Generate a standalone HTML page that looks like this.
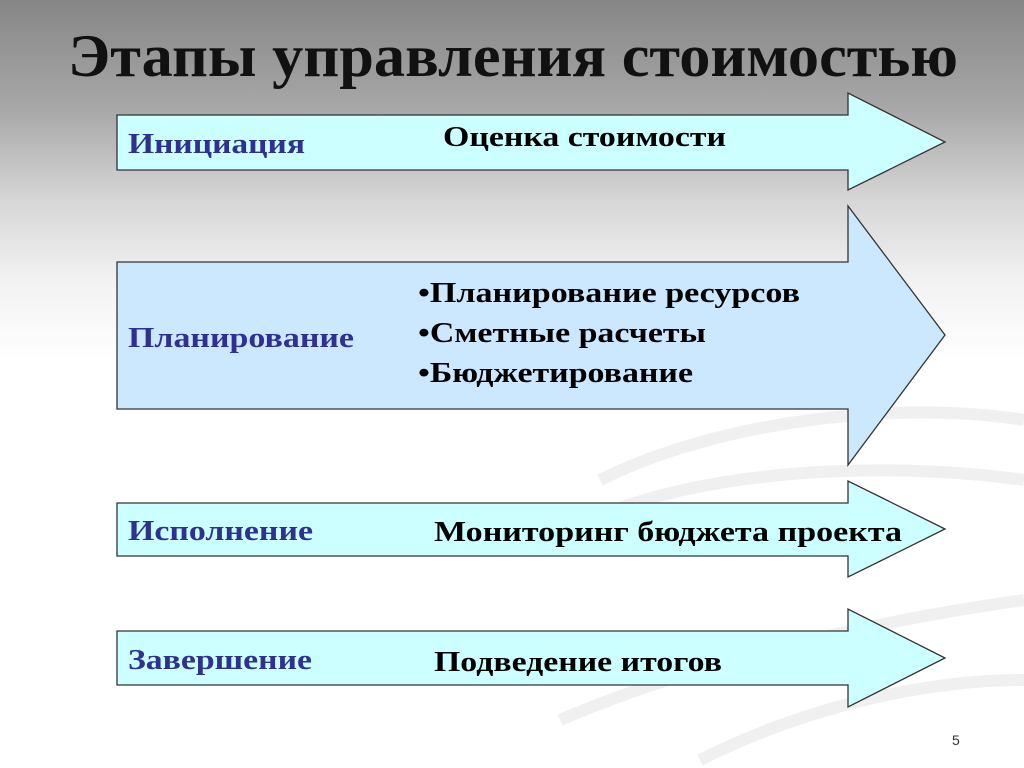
<!DOCTYPE html>
<html><head><meta charset="utf-8"><style>
html,body{margin:0;padding:0;}
body{width:1024px;height:768px;overflow:hidden;background:linear-gradient(to bottom,#868686 0px,#a8a8a8 110px,#d6d6d6 200px,#f2f2f2 280px,#ffffff 360px,#ffffff 768px);}
</style></head><body>
<svg width="1024" height="768" viewBox="0 0 1024 768" xmlns="http://www.w3.org/2000/svg" style="position:absolute;left:0;top:0">
<g fill="none" stroke="#f0f0f0" stroke-width="12">
<path d="M600 480 C720 420 900 400 1024 420"/>
<path d="M590 520 C700 470 880 460 1024 480"/>
<path d="M560 720 C700 660 880 620 1024 600"/>
<path d="M700 760 C820 700 940 680 1024 680"/>
</g>
<text x="68" y="76" font-family="Liberation Serif, serif" font-weight="bold" font-size="60" fill="#111" textLength="890" lengthAdjust="spacingAndGlyphs">Этапы управления стоимостью</text>
<g stroke="#333" stroke-width="1.3">
<polygon points="117,115 848,115 848,93 945,142 848,190 848,170 117,170" fill="#ccffff"/>
<polygon points="117,262 848,262 848,206 945,335 848,465 848,409 117,409" fill="#cce8ff"/>
<polygon points="117,503 848,503 848,481 945,529 848,577 848,556 117,556" fill="#ccffff"/>
<polygon points="117,631 848,631 848,609 945,658 848,707 848,685 117,685" fill="#ccffff"/>
</g>
<g font-family="Liberation Serif, serif" font-weight="bold" font-size="28" lengthAdjust="spacingAndGlyphs">
<text x="128" y="153" fill="#2e3192" textLength="177" lengthAdjust="spacingAndGlyphs">Инициация</text>
<text x="128" y="347" fill="#2e3192" textLength="226" lengthAdjust="spacingAndGlyphs">Планирование</text>
<text x="128" y="540" fill="#2e3192" textLength="185" lengthAdjust="spacingAndGlyphs">Исполнение</text>
<text x="128" y="669" fill="#2e3192" textLength="184" lengthAdjust="spacingAndGlyphs">Завершение</text>
<text x="443" y="146" fill="#000" textLength="283" lengthAdjust="spacingAndGlyphs">Оценка стоимости</text>
<text x="418" y="302" fill="#000" textLength="382" lengthAdjust="spacingAndGlyphs">•Планирование ресурсов</text>
<text x="418" y="342" fill="#000" textLength="288" lengthAdjust="spacingAndGlyphs">•Сметные расчеты</text>
<text x="418" y="382" fill="#000" textLength="275" lengthAdjust="spacingAndGlyphs">•Бюджетирование</text>
<text x="434" y="541" fill="#000" textLength="468" lengthAdjust="spacingAndGlyphs">Мониторинг бюджета проекта</text>
<text x="434" y="671" fill="#000" textLength="288" lengthAdjust="spacingAndGlyphs">Подведение итогов</text>
</g>
<text x="952" y="745" font-family="Liberation Sans, sans-serif" font-size="14" fill="#333">5</text>
</svg>
</body></html>
